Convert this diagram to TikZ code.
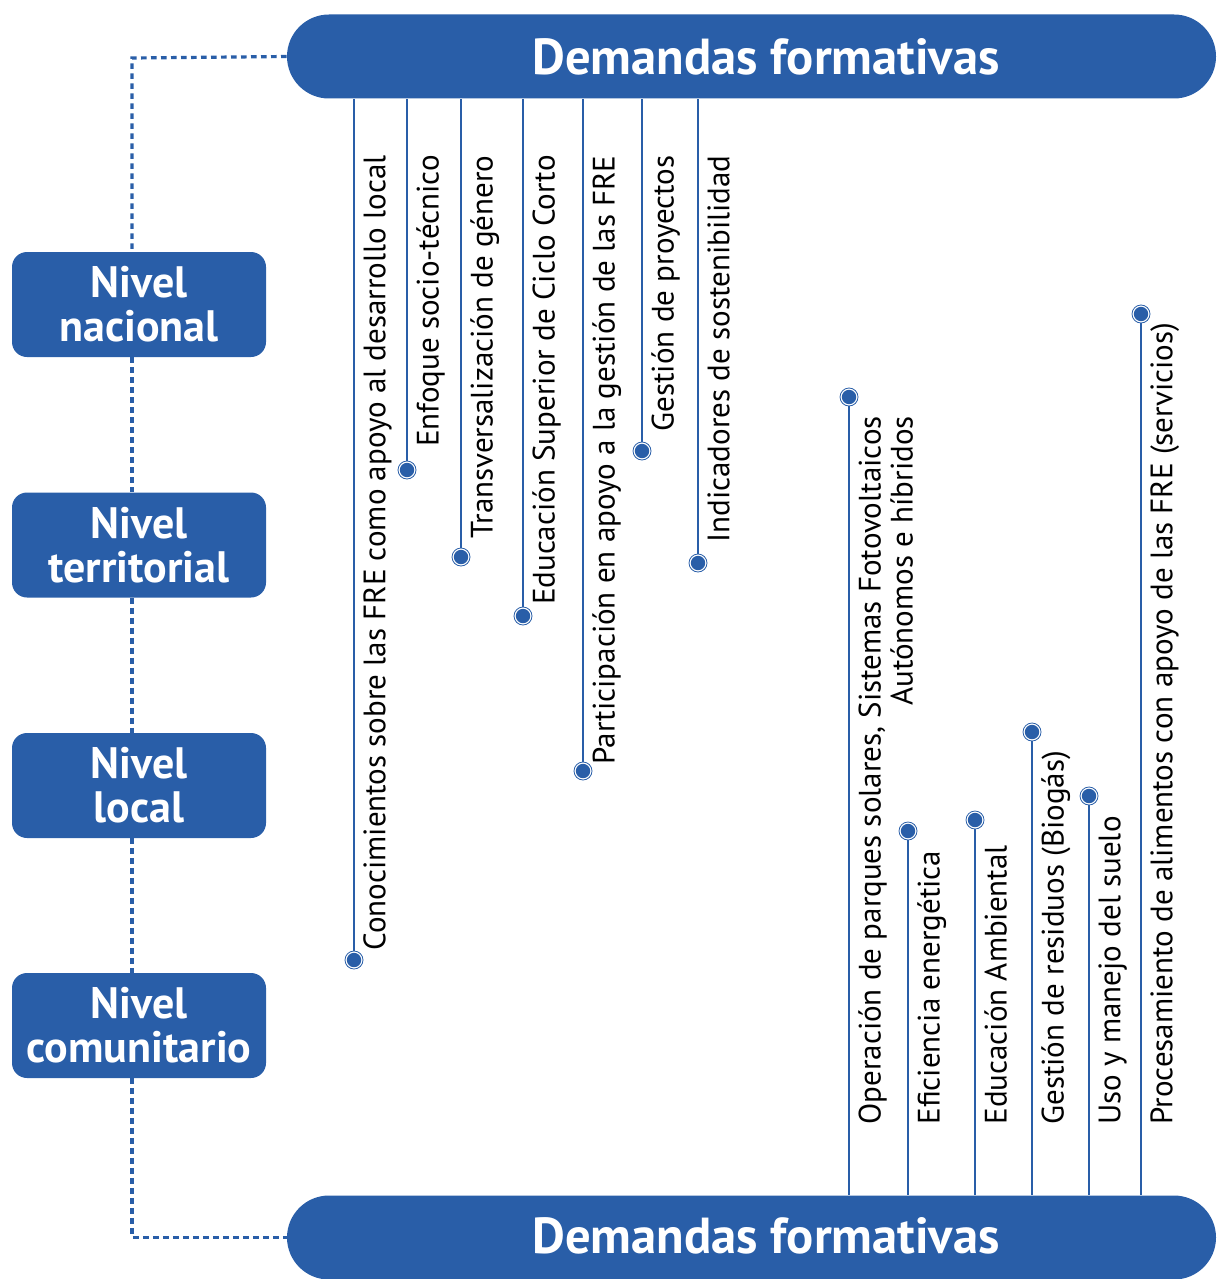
\documentclass[tikz,border=0pt]{standalone}
\usepackage{fontspec}
\setmainfont{PT Sans}
\usetikzlibrary{positioning}
\definecolor{azul}{RGB}{41,94,168}

\begin{document}
\begin{tikzpicture}[x=0.5pt, y=-0.5pt,
	banner/.style={fill=azul, rounded corners=21pt, minimum width=464.5pt, minimum height=42pt, inner sep=0pt},
	titulo/.style={text=white, font=\fontsize{25.3}{28}\selectfont\bfseries},
	nivel/.style={fill=azul, rounded corners=7.5pt, minimum width=127pt, minimum height=52.5pt, inner sep=0pt,
		text=white, align=center, font=\fontsize{22}{22}\selectfont\bfseries},
	punto/.style={circle, inner sep=0pt, minimum size=9pt, fill=white, draw=azul, line width=0.4pt,
		path picture={\fill[azul] (path picture bounding box.center) circle (3.6pt);}},
	rama/.style={draw=azul, line width=1pt},
	enlace/.style={draw=azul, line width=1.6pt, dash pattern=on 2.8pt off 2.2pt},
	tema/.style={rotate=90, inner sep=0pt, font=\fontsize{15.5}{16}\selectfont}]
	\useasboundingbox (0,0) rectangle (1216,1279);

	% bandas
	\node[banner] (top) at (751.5,56.5) {};
	\node[titulo] (tt) at (766,57) {Demandas formativas};
	\node[banner] (bot) at (751.5,1237.5) {};
	\node[titulo] (bt) at (766,1236) {Demandas formativas};

	% niveles
	\node[nivel] (nac) at (139,304.5) {Nivel\\nacional};
	\node[nivel] (ter) at (139,545) {Nivel\\territorial};
	\node[nivel] (loc) at (139,785.5) {Nivel\\local};
	\node[nivel] (com) at (139,1025.5) {Nivel\\comunitario};

	\coordinate (eje) at (132,58);
	\draw[enlace] (top.west) -- (eje) -- (eje |- nac.north);
	\draw[enlace] (eje |- nac.south) -- (eje |- ter.north);
	\draw[enlace] (eje |- ter.south) -- (eje |- loc.north);
	\draw[enlace] (eje |- loc.south) -- (eje |- com.north);
	\draw[enlace] (eje |- com.south) -- (eje |- bot.west) -- (bot.west);

	% demandas superiores
	\node[punto] (d1) at (354,960) {};
	\node[punto] (d2) at (407,470) {};
	\node[punto] (d3) at (461,557) {};
	\node[punto] (d4) at (523,616) {};
	\node[punto] (d5) at (583,771) {};
	\node[punto] (d6) at (642,451) {};
	\node[punto] (d7) at (698,563) {};
	\draw[rama] (d1.north) -- (d1 |- top.south);
	\draw[rama] (d2.north) -- (d2 |- top.south);
	\draw[rama] (d3.north) -- (d3 |- top.south);
	\draw[rama] (d4.north) -- (d4 |- top.south);
	\draw[rama] (d5.north) -- (d5 |- top.south);
	\draw[rama] (d6.north) -- (d6 |- top.south);
	\draw[rama] (d7.north) -- (d7 |- top.south);
	\node[tema, anchor=north east] (t1) at (363,155) {Conocimientos sobre las FRE como apoyo al desarrollo local};
	\node[tema, anchor=north east] (t2) at (416,155) {Enfoque socio-técnico};
	\node[tema, anchor=north east] (t3) at (470,155) {Transversalización de género};
	\node[tema, anchor=north east] (t4) at (532,155) {Educación Superior de Ciclo Corto};
	\node[tema, anchor=north east] (t5) at (592,155) {Participación en apoyo a la gestión de las FRE};
	\node[tema, anchor=north east] (t6) at (651,155) {Gestión de proyectos};
	\node[tema, anchor=north east] (t7) at (707,155) {Indicadores de sostenibilidad};

	% demandas inferiores
	\node[punto] (e1) at (849,397) {};
	\node[punto] (e2) at (908,831) {};
	\node[punto] (e3) at (975,820) {};
	\node[punto] (e4) at (1032,732) {};
	\node[punto] (e5) at (1089,796) {};
	\node[punto] (e6) at (1141,314) {};
	\draw[rama] (e1.south) -- (e1 |- bot.north);
	\draw[rama] (e2.south) -- (e2 |- bot.north);
	\draw[rama] (e3.south) -- (e3 |- bot.north);
	\draw[rama] (e4.south) -- (e4 |- bot.north);
	\draw[rama] (e5.south) -- (e5 |- bot.north);
	\draw[rama] (e6.south) -- (e6 |- bot.north);
	\node[tema, anchor=north west, align=right] (s1) at (858,1125) {Operación de parques solares, Sistemas Fotovoltaicos\\Autónomos e híbridos};
	\node[tema, anchor=north west] (s2) at (917,1125) {Eficiencia energética};
	\node[tema, anchor=north west] (s3) at (984,1125) {Educación Ambiental};
	\node[tema, anchor=north west] (s4) at (1041,1125) {Gestión de residuos (Biogás)};
	\node[tema, anchor=north west] (s5) at (1098,1125) {Uso y manejo del suelo};
	\node[tema, anchor=north west] (s6) at (1150,1125) {Procesamiento de alimentos con apoyo de las FRE (servicios)};
\end{tikzpicture}
\end{document}
